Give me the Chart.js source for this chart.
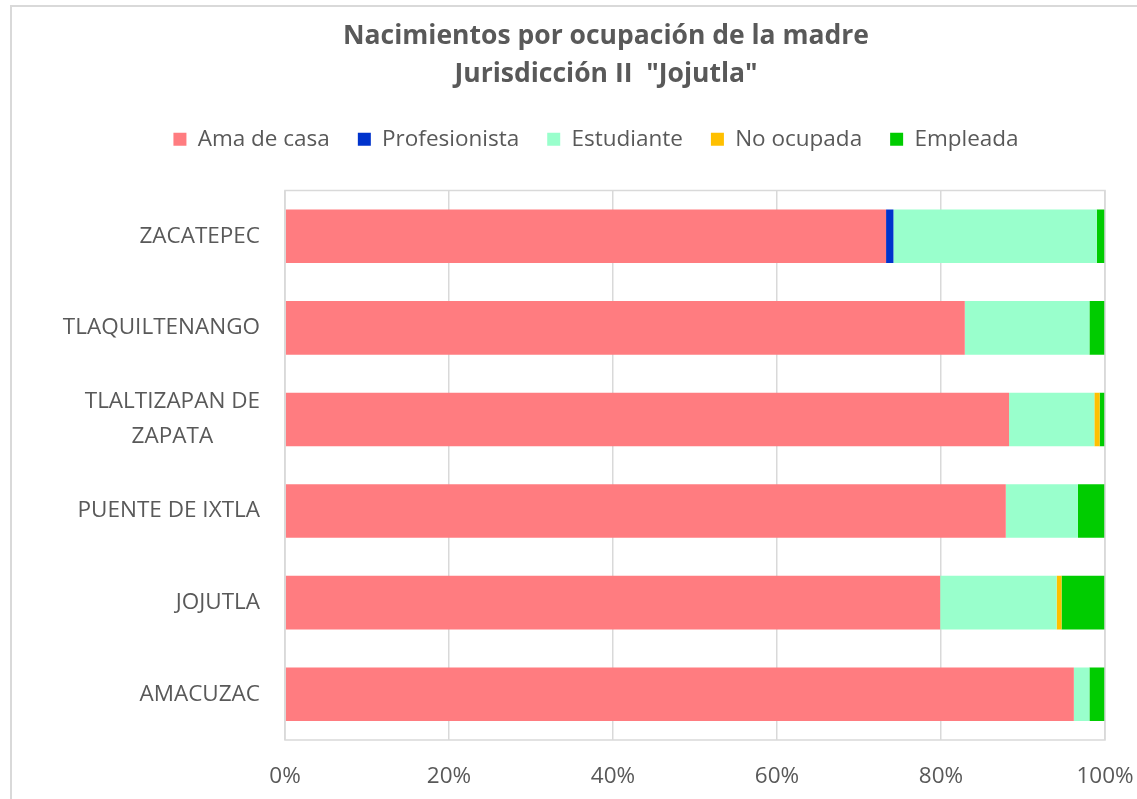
<!DOCTYPE html>
<html>
<head>
<meta charset="utf-8">
<script src="https://cdn.jsdelivr.net/npm/chart.js@4/dist/chart.umd.min.js"></script>
<style>
html,body{margin:0;padding:0;background:#fff;}
#wrap{position:relative;width:1137px;height:799px;}
</style>
</head>
<body>
<div id="wrap"><canvas id="c" width="1137" height="799"></canvas></div>
<script>
const categories = [["ZACATEPEC"], ["TLAQUILTENANGO"], ["TLALTIZAPAN DE", "ZAPATA"], ["PUENTE DE IXTLA"], ["JOJUTLA"], ["AMACUZAC"]];
const amaDeCasa     = [73.3, 82.9, 88.3, 87.9, 79.9, 96.2];
const profesionista = [0.9, 0, 0, 0, 0, 0];
const estudiante    = [24.8, 15.2, 10.4, 8.8, 14.2, 1.9];
const noOcupada     = [0, 0, 0.65, 0, 0.6, 0];
const empleada      = [1.0, 1.9, 0.65, 3.3, 5.3, 1.9];
const xTicks = [0, 20, 40, 60, 80, 100];
const titleLines = ["Nacimientos por ocupación de la madre", "Jurisdicción II  \"Jojutla\""];

const GRAY = '#595959';
const GRID = '#d9d9d9';
const FONT = "'Open Sans', 'Noto Sans', sans-serif";
const LABEL_SIZE = 22.5;

const framePlugin = {
  id: 'frame',
  afterLayout(chart) {
    if (chart.legend) { chart.legend.left -= 10; chart.legend.right -= 10; }
  },
  beforeDraw(chart) {
    const ctx = chart.ctx;
    ctx.save();
    ctx.strokeStyle = GRID;
    ctx.lineWidth = 2;
    ctx.strokeRect(11, 6, chart.width + 20, chart.height + 20);
    ctx.restore();
  },
  afterDatasetsDraw(chart) {
    const ctx = chart.ctx;
    const a = chart.chartArea;
    ctx.save();
    ctx.strokeStyle = GRID;
    ctx.lineWidth = 1.5;
    ctx.strokeRect(a.left, a.top, a.right - a.left, a.bottom - a.top);
    const ys = chart.scales.y;
    ctx.fillStyle = GRAY;
    ctx.font = LABEL_SIZE + "px " + FONT;
    ctx.textBaseline = 'middle';
    ctx.textAlign = 'center';
    const lh = 35;
    categories.forEach((lines, i) => {
      const yc = ys.getPixelForValue(i);
      let maxW = 0;
      lines.forEach(l => { maxW = Math.max(maxW, ctx.measureText(l).width); });
      const cx = a.left - 25 - maxW / 2;
      const y0 = yc - (lines.length - 1) * lh / 2;
      lines.forEach((l, k) => ctx.fillText(l, cx, y0 + k * lh));
    });
    ctx.restore();
  }
};

new Chart(document.getElementById('c'), {
  type: 'bar',
  data: {
    labels: categories,
    datasets: [
      { label: 'Ama de casa', data: amaDeCasa, backgroundColor: '#FF7C80' },
      { label: 'Profesionista', data: profesionista, backgroundColor: '#0033CC' },
      { label: 'Estudiante', data: estudiante, backgroundColor: '#99FFCC' },
      { label: 'No ocupada', data: noOcupada, backgroundColor: '#FFC000' },
      { label: 'Empleada', data: empleada, backgroundColor: '#00CC00' }
    ]
  },
  options: {
    indexAxis: 'y',
    responsive: false,
    animation: false,
    devicePixelRatio: 1,
    layout: { padding: { top: 17, right: 32, bottom: 0, left: 107 } },
    datasets: { bar: { barPercentage: 1, categoryPercentage: 0.585, borderWidth: 0 } },
    plugins: {
      title: {
        display: true,
        text: titleLines,
        color: GRAY,
        font: { family: FONT, size: 26.5, weight: 'bold', lineHeight: 1.434 },
        padding: { top: 0, bottom: 7 }
      },
      legend: {
        position: 'top',
        labels: {
          color: GRAY,
          font: { family: FONT, size: LABEL_SIZE },
          boxWidth: 13,
          boxHeight: 13,
          padding: 28,
          generateLabels(chart) {
            return chart.data.datasets.map((d, i) => ({
              text: d.label, fillStyle: d.backgroundColor, strokeStyle: d.backgroundColor,
              lineWidth: 0, hidden: false, datasetIndex: i, fontColor: GRAY
            }));
          }
        }
      },
      tooltip: { enabled: false }
    },
    scales: {
      x: {
        stacked: true,
        min: 0, max: 100,
        afterBuildTicks(scale) { scale.ticks = xTicks.map(v => ({ value: v })); },
        afterFit(scale) { scale.height = 59; scale.paddingLeft = 0; scale.paddingRight = 0; },
        grid: { color: GRID, lineWidth: 1.5, drawTicks: false },
        border: { display: false },
        ticks: {
          color: GRAY, font: { family: FONT, size: LABEL_SIZE }, padding: 23,
          callback: v => v + '%'
        }
      },
      xTop: {
        type: 'linear',
        axis: 'x',
        position: 'top',
        min: 0, max: 100,
        afterFit(scale) { scale.height = 30; scale.paddingLeft = 0; scale.paddingRight = 0; },
        grid: { display: false },
        border: { display: false },
        ticks: { display: false }
      },
      y: {
        stacked: true,
        afterFit(scale) { scale.width = 178; },
        grid: { display: false },
        border: { display: false },
        ticks: { display: false }
      }
    }
  },
  plugins: [framePlugin]
});
</script>
</body>
</html>
